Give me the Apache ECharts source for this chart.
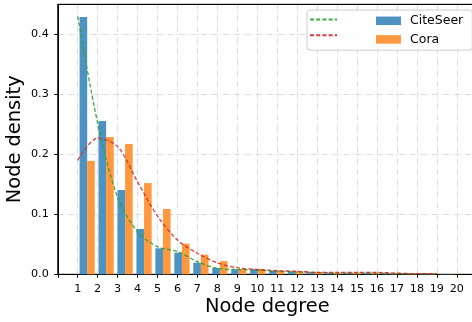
<!DOCTYPE html>
<html>
<head>
<meta charset="utf-8">
<script src="https://cdn.jsdelivr.net/npm/echarts@6/dist/echarts.min.js"></script>
<style>
  html, body { margin: 0; padding: 0; background: #fff; }
  #chart { width: 472px; height: 322px; }
</style>
</head>
<body>
<div id="chart"></div>
<script>
// histogram: 20 bins over degree 1..20
var binRange = [1, 20];
var binCount = 20;
var citeseerDensity = [0.429, 0.2555, 0.1405, 0.0755, 0.0433, 0.036, 0.0193, 0.0105, 0.0083, 0.0083,
    0.006, 0.005, 0.003, 0.002, 0.002, 0.002, 0.0015, 0.001, 0.001, 0.0005];
var coraDensity = [0.189, 0.229, 0.217, 0.152, 0.1088, 0.051, 0.0327, 0.022, 0.0088, 0.0088,
    0.006, 0.0045, 0.003, 0.002, 0.002, 0.0015, 0.0015, 0.001, 0.0005, 0.0005];

// dashed fit curves, sampled at integer degrees
var fitDegrees = [1, 2, 3, 4, 5, 6, 7, 8, 9, 10, 11, 12, 13, 14, 15, 16, 17, 18, 19];
var citeseerFit = [0.43, 0.252, 0.128, 0.071, 0.046, 0.038, 0.021, 0.010, 0.008, 0.007,
    0.005, 0.004, 0.003, 0.002, 0.002, 0.002, 0.001, 0.001, 0.001];
var coraFit = [0.19, 0.227, 0.213, 0.154, 0.097, 0.057, 0.035, 0.019, 0.011, 0.008,
    0.006, 0.005, 0.003, 0.003, 0.003, 0.003, 0.002, 0.001, 0.001];

var yTicks = [0, 0.1, 0.2, 0.3, 0.4];

var FONT = 'DejaVu Sans';
var binWidth = (binRange[1] - binRange[0]) / binCount;

function histData(values) {
    return values.map(function (v, k) {
        return [binRange[0] + (k + 0.5) * binWidth, v];
    });
}
function pairs(xs, ys) {
    return xs.map(function (x, i) { return [x, ys[i]]; });
}

var gridLine = { color: '#dcdcdc', width: 1, type: [6, 2, 1, 2] };

var chart = echarts.init(document.getElementById('chart'), null, { renderer: 'canvas' });
chart.setOption({
    animation: false,
    backgroundColor: '#fff',
    textStyle: { fontFamily: FONT },
    grid: {
        left: 57.75, right: -4.75, top: 4.3, bottom: 47.7,
        outerBoundsMode: 'none',
        containLabel: false,
        show: true, borderColor: '#000', borderWidth: 1, backgroundColor: 'transparent'
    },
    legend: [
        {
            data: ['CiteSeer fit', 'Cora fit'],
            orient: 'vertical',
            left: 309, top: 13.8,
            padding: 0,
            itemWidth: 27, itemHeight: 14, itemGap: 4.6,
            itemStyle: { opacity: 0 },
            formatter: function () { return ''; },
            textStyle: { fontSize: 12.5, lineHeight: 14 },
            z: 10
        },
        {
            data: ['CiteSeer', 'Cora'],
            orient: 'vertical',
            left: 307, top: 10,
            padding: [3.8, 9, 3.8, 69],
            itemWidth: 25, itemHeight: 8.5, itemGap: 4.6,
            icon: 'rect',
            backgroundColor: 'rgba(255,255,255,0.85)',
            borderColor: '#cccccc', borderWidth: 1, borderRadius: 3,
            textStyle: { fontFamily: FONT, fontSize: 12.5, color: '#000', lineHeight: 14, padding: [0, 0, 0, 4] }
        }
    ],
    xAxis: [
        {
            type: 'value',
            min: 0, max: 21, interval: 1,
            name: 'Node degree',
            nameLocation: 'middle',
            nameGap: 23,
            nameMoveOverlap: false,
            nameTextStyle: { fontFamily: FONT, fontSize: 19.4, color: '#000' },
            axisLine: { show: true, lineStyle: { color: '#000', width: 1 } },
            axisTick: { show: true, length: 3.5, lineStyle: { color: '#000' } },
            axisLabel: {
                margin: 9.5, fontFamily: FONT, fontSize: 11.2, color: '#000',
                formatter: function (v) {
                    return (v >= 1 && v <= 20 && Math.round(v) === v) ? String(v) : '';
                }
            },
            splitLine: { show: true, lineStyle: gridLine }
        },
        {
            // top spine
            type: 'value',
            position: 'top',
            min: 0, max: 21,
            axisLine: { show: true, lineStyle: { color: '#000', width: 1 } },
            axisTick: { show: false },
            axisLabel: { show: false },
            splitLine: { show: false },
            z: 4
        }
    ],
    yAxis: {
        type: 'value',
        min: 0, max: 0.45, interval: 0.1,
        name: 'Node density',
        nameLocation: 'middle',
        nameGap: 33.5,
        nameMoveOverlap: false,
        nameTextStyle: { fontFamily: FONT, fontSize: 19.4, color: '#000' },
        axisLine: { show: true, lineStyle: { color: '#000', width: 1 } },
        axisTick: { show: true, length: 3.5, lineStyle: { color: '#000' } },
        axisLabel: {
            margin: 9, fontFamily: FONT, fontSize: 11.2, color: '#000',
            showMaxLabel: false,
            formatter: function (v) {
                var r = Math.round(v * 10) / 10;
                return (yTicks.indexOf(r) >= 0 && Math.abs(v - r) < 1e-6) ? v.toFixed(1) : '';
            }
        },
        splitLine: { show: true, lineStyle: gridLine }
    },
    series: [
        {
            name: 'CiteSeer',
            type: 'bar',
            data: histData(citeseerDensity),
            barWidth: 7.6,
            barGap: '0%',
            itemStyle: { color: '#4c92c3' },
            z: 2
        },
        {
            name: 'Cora',
            type: 'bar',
            data: histData(coraDensity),
            barWidth: 7.6,
            barGap: '0%',
            itemStyle: { color: '#ff983e' },
            z: 2
        },
        {
            name: 'CiteSeer fit',
            type: 'line',
            data: pairs(fitDegrees, citeseerFit),
            smooth: 0.3,
            symbol: 'none',
            lineStyle: { color: '#2ca02c', width: 1.3, type: [4, 2.2], opacity: 0.9 },
            itemStyle: { color: '#2ca02c' },
            z: 5
        },
        {
            name: 'Cora fit',
            type: 'line',
            data: pairs(fitDegrees, coraFit),
            smooth: 0.3,
            symbol: 'none',
            lineStyle: { color: '#d62728', width: 1.3, type: [4, 2.2], opacity: 0.9 },
            itemStyle: { color: '#d62728' },
            z: 5
        }
    ]
});
</script>
</body>
</html>
